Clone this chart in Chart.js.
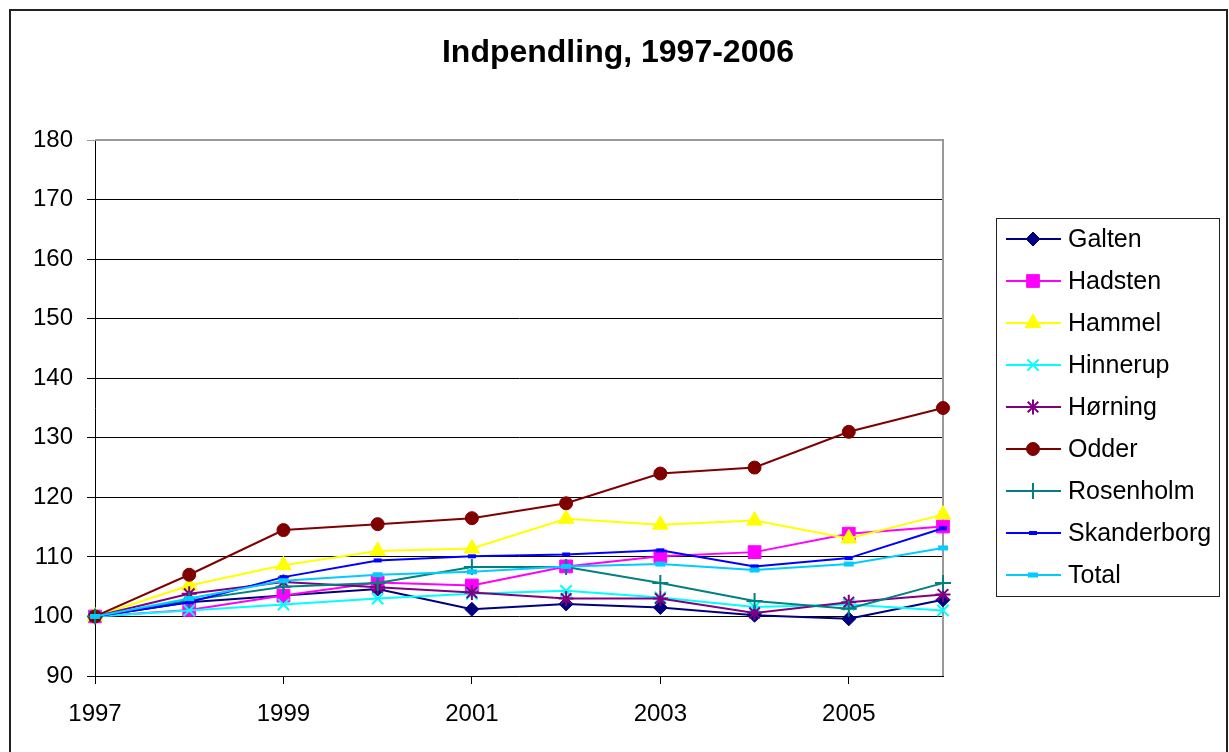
<!DOCTYPE html>
<html>
<head>
<meta charset="utf-8">
<script src="https://cdn.jsdelivr.net/npm/chart.js@4/dist/chart.umd.min.js"></script>
<style>
  html, body { margin: 0; padding: 0; background: #fff; }
  #wrap { width: 1229px; height: 752px; position: relative; }
</style>
</head>
<body>
<div id="wrap"><canvas id="graf"></canvas></div>
<script>
// ---- data (index, 1997 = 100) ----
const aar = ['1997','1998','1999','2000','2001','2002','2003','2004','2005','2006'];
const yTicks = [90, 100, 110, 120, 130, 140, 150, 160, 170, 180];
const titel = 'Indpendling, 1997-2006';

const galten      = [100, 102.4, 103.5, 104.6, 101.2, 102.1, 101.5, 100.2,  99.6, 102.8];
const hadsten     = [100, 101.1, 103.5, 105.7, 105.2, 108.4, 110.1, 110.8, 113.9, 115.1];
const hammel      = [100, 105.2, 108.6, 111.0, 111.4, 116.4, 115.4, 116.1, 113.1, 117.1];
const hinnerup    = [100, 101.0, 102.0, 103.0, 103.8, 104.3, 103.2, 101.6, 102.0, 101.0];
const horning     = [100, 103.8, 105.8, 104.9, 104.0, 103.0, 103.0, 100.6, 102.4, 103.7];
const odder       = [100, 107.0, 114.5, 115.5, 116.5, 119.0, 124.0, 125.0, 131.0, 135.0];
const rosenholm   = [100, 102.7, 105.0, 105.6, 108.3, 108.3, 105.6, 102.6, 101.3, 105.6];
const skanderborg = [100, 102.4, 106.6, 109.4, 110.1, 110.4, 111.1, 108.4, 109.8, 114.8];
const total       = [100, 103.0, 106.0, 107.0, 107.5, 108.4, 108.8, 107.8, 108.8, 111.5];

const FONT = 'Arial, "Liberation Sans", sans-serif';

function serie(label, data, color, style, radius, bw) {
  return {
    label, data,
    borderColor: color, backgroundColor: color,
    borderWidth: 2,
    pointStyle: style, pointRadius: radius, pointHoverRadius: radius,
    pointBackgroundColor: color, pointBorderColor: color,
    pointBorderWidth: bw || 1,
    tension: 0,
    clip: false
  };
}

const datasets = [
  serie('Galten',      galten,      '#000080', 'rectRot',  7),
  serie('Hadsten',     hadsten,     '#FF00FF', 'rect',     9),
  serie('Hammel',      hammel,      '#FFFF00', 'triangle', 9),
  serie('Hinnerup',    hinnerup,    '#00FFFF', 'crossRot', 8, 2),
  serie('Hørning',     horning,     '#800080', 'star',     7.5, 2),
  serie('Odder',       odder,       '#800000', 'circle',   6.5),
  serie('Rosenholm',   rosenholm,   '#008080', 'cross',    8, 2),
  serie('Skanderborg', skanderborg, '#0000FF', 'line',     4, 4),
  serie('Total',       total,       '#00CCFF', 'line',     5, 5),
];
// Excel tegner sidste serie øverst
datasets.forEach((d, i) => { d.order = datasets.length - i; });

// titel, ramme, grå kant på plotområdet og forklaring
const pynt = {
  id: 'pynt',
  beforeDraw(chart) {
    const ctx = chart.ctx;
    ctx.save();
    ctx.fillStyle = '#000';
    ctx.font = 'bold 32px ' + FONT;
    ctx.textAlign = 'center';
    ctx.textBaseline = 'middle';
    ctx.fillText(titel, 618, 53);
    ctx.restore();
  },
  beforeDatasetsDraw(chart) {
    const ctx = chart.ctx, a = chart.chartArea;
    ctx.save();
    ctx.strokeStyle = '#999';
    ctx.lineWidth = 2;
    ctx.beginPath();
    ctx.moveTo(a.left, a.top); ctx.lineTo(a.right, a.top); ctx.lineTo(a.right, a.bottom);
    ctx.stroke();
    ctx.restore();
  },
  afterDraw(chart) {
    const ctx = chart.ctx;
    ctx.save();
    ctx.strokeStyle = '#222';
    ctx.lineWidth = 2;
    ctx.strokeRect(10, 10, 1217, 760);

    // forklaring
    const lx = 996, ly = 218, lw = 223, lh = 378;
    ctx.strokeStyle = '#222';
    ctx.lineWidth = 1;
    ctx.strokeRect(lx + 0.5, ly + 0.5, lw, lh);
    ctx.font = '25px ' + FONT;
    ctx.textBaseline = 'middle';
    ctx.textAlign = 'left';
    datasets.forEach((d, i) => {
      const y = 239 + i * 42;
      ctx.strokeStyle = d.borderColor;
      ctx.lineWidth = 2;
      ctx.beginPath(); ctx.moveTo(1006, y); ctx.lineTo(1061, y); ctx.stroke();
      ctx.fillStyle = d.borderColor;
      ctx.lineWidth = d.pointBorderWidth;
      Chart.helpers.drawPoint(ctx, {
        pointStyle: d.pointStyle, radius: d.pointRadius, rotation: 0, borderWidth: d.pointBorderWidth
      }, 1033, y);
      ctx.fillStyle = '#000';
      ctx.fillText(d.label, 1068, y + 1);
    });
    ctx.restore();
  }
};

new Chart(document.getElementById('graf'), {
  type: 'line',
  data: { labels: aar, datasets },
  options: {
    responsive: true,
    maintainAspectRatio: false,
    animation: false,
    layout: { padding: { left: 0, right: 286, top: 140, bottom: 0 } },
    plugins: {
      legend: { display: false },
      tooltip: { enabled: false },
      title: { display: false }
    },
    scales: {
      x: {
        type: 'category',
        offset: false,
        afterFit(s) { s.height = 76; },
        border: { color: '#000', width: 1 },
        grid: {
          drawOnChartArea: false,
          drawTicks: true,
          tickLength: 8,
          color: c => (c.index % 2 === 0 ? '#000' : 'rgba(0,0,0,0)')
        },
        ticks: {
          autoSkip: false,
          maxRotation: 0,
          padding: 16,
          color: '#000',
          font: { family: FONT, size: 24 },
          callback: (v, i) => (i % 2 === 0 ? aar[i] : '')
        }
      },
      y: {
        min: yTicks[0],
        max: yTicks[yTicks.length - 1],
        afterFit(s) { s.width = 95; },
        afterBuildTicks(s) { s.ticks = yTicks.map(v => ({ value: v })); },
        border: { color: '#000', width: 1 },
        grid: {
          color: c => (c.tick && c.tick.value === 180 ? '#999' : '#000'),
          lineWidth: 1,
          tickLength: 8
        },
        ticks: {
          padding: 14,
          color: '#000',
          font: { family: FONT, size: 24 }
        }
      }
    }
  },
  plugins: [pynt]
});
</script>
</body>
</html>
